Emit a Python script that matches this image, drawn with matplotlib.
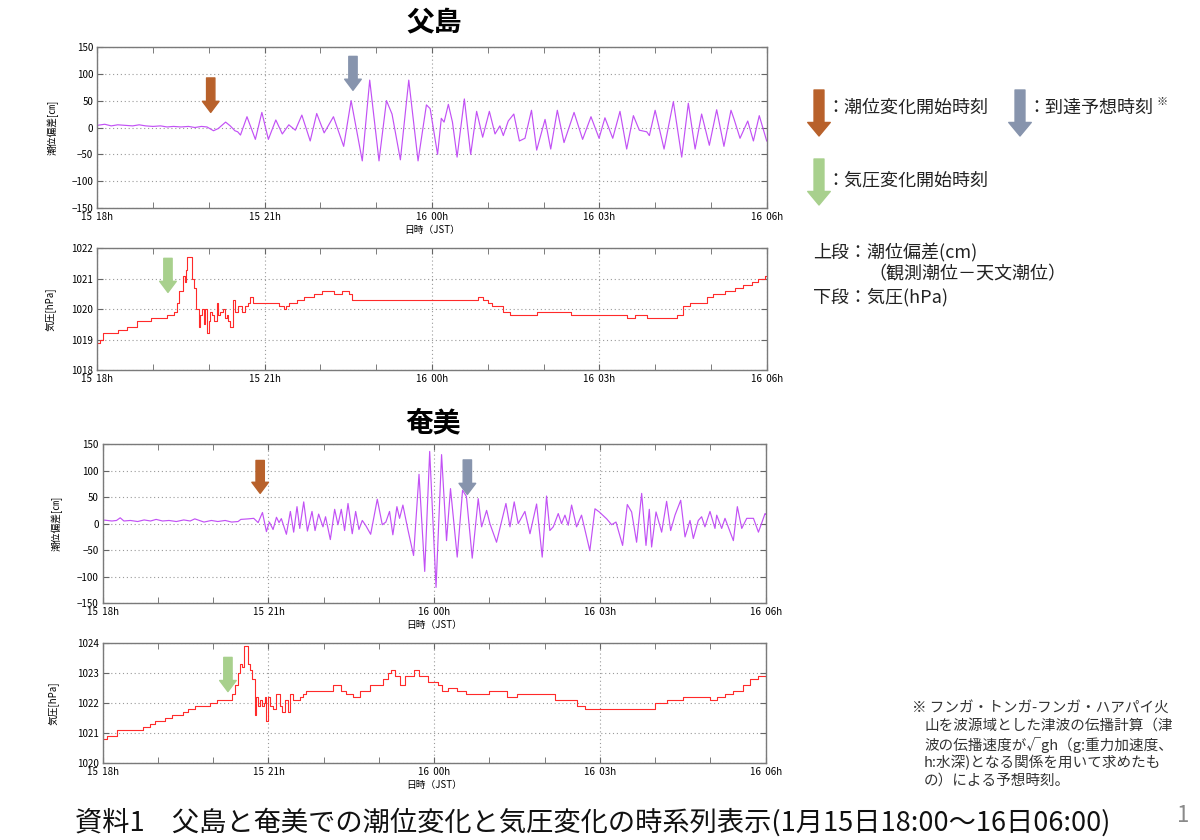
import matplotlib
matplotlib.use("Agg")
import matplotlib.pyplot as plt

plt.rcParams['font.family'] = ['Noto Sans CJK JP', 'DejaVu Sans']

# ---------------- data (minutes after 15th 18:00 JST) ----------------
time_ticks = [0, 180, 360, 540, 720]
time_tick_labels = ["15  18h", "15  21h", "16  00h", "16  03h", "16  06h"]

tide_ticks = [-150, -100, -50, 0, 50, 100, 150]
chichi_p_ticks = [1018, 1019, 1020, 1021, 1022]
amami_p_ticks = [1020, 1021, 1022, 1023, 1024]

chichi_tide = [
    (0, 4), (8, 6), (15, 3), (22, 5), (30, 4), (38, 3), (45, 5), (52, 3), (60, 2), (68, 3),
    (75, 1), (82, 2), (90, 1), (98, 2), (105, 0), (112, 2), (118, 1), (122, -3), (125, -6),
    (130, -2), (138, 10), (143, 3), (148, -6), (151, -8), (154, -14), (161, 20), (170, -22),
    (177, 28), (184, -22), (192, 14), (199, -12), (206, 5), (213, -5), (220, 23), (229, -25),
    (236, 26), (244, -10), (254, 20), (265, -35), (273, 50), (285, -62), (293, 88), (303, -62),
    (311, 50), (317, 25), (326, -60), (335, 88), (345, -62), (354, 42), (358, 35), (366, -50),
    (370, 17), (373, 10), (377.6, 43), (382, 10), (387, -55), (394.8, 53), (401.6, -50),
    (408, 30), (414.5, -18), (421.7, 30), (427.8, -12), (433, 3), (436.7, -15), (442, 12),
    (448, 25), (454, -25), (460, -20), (467, 32), (472.6, -42), (481.6, 15), (487.7, -40),
    (494.8, 32), (502, -28), (512.8, 28), (522, -22), (531, 20), (539.7, -20), (546, 18),
    (554.4, -20), (562.2, 30), (569.4, -40), (576.6, 22), (583, -5), (591, -8), (593.8, -15),
    (600, 32), (609.6, -40), (619.6, 48), (628.6, -55), (635.7, 45), (643, -40), (650, 25),
    (658.3, -33), (666.2, 33), (674, -35), (681.6, 32), (685, 15), (691.3, -20), (699.6, 12),
    (705.7, -25), (712, 22), (720, -25),
]

chichi_pres = [
    (0, 1018.9), (3, 1019.0), (6.5, 1019.2), (13.7, 1019.2), (22.6, 1019.3), (31.6, 1019.4),
    (42.4, 1019.6), (53.2, 1019.6), (58, 1019.7), (62.2, 1019.7), (74.7, 1019.8), (80.1, 1019.8),
    (82, 1019.9), (84, 1019.9), (86, 1020.2), (88.4, 1020.6), (92, 1021.1), (93.8, 1020.9),
    (95, 1021.3), (96.3, 1021.7), (98.8, 1021.7), (101.7, 1021.0), (104.2, 1020.7),
    (106.4, 1020.0), (108.9, 1019.4), (110.7, 1019.8), (112.5, 1020.0), (114.3, 1019.5),
    (116.1, 1020.0), (117.9, 1019.2), (119.7, 1019.6), (121, 1019.9), (123.2, 1019.8),
    (125, 1019.6), (128.6, 1020.2), (130, 1019.8), (132.2, 1019.9), (135.1, 1020.0),
    (137, 1019.7), (139.4, 1019.8), (141, 1019.6), (143, 1019.4), (145.9, 1020.3),
    (148.4, 1019.9), (151, 1020.1), (153.8, 1020.1), (156, 1019.9), (159.2, 1020.1),
    (162, 1020.2), (164.6, 1020.4), (167, 1020.2), (170, 1020.2), (175.3, 1020.2),
    (189.7, 1020.2), (195, 1020.1), (200.5, 1020.0), (203, 1020.1), (205.9, 1020.2),
    (214.9, 1020.3), (222.1, 1020.4), (232.8, 1020.5), (241.8, 1020.6), (248, 1020.6),
    (254.4, 1020.5), (260, 1020.5), (263.4, 1020.6), (270.6, 1020.5), (274.2, 1020.3),
    (283.1, 1020.3), (297.5, 1020.3), (315.5, 1020.3), (333.5, 1020.3), (358.6, 1020.3),
    (380, 1020.3), (400, 1020.3), (410, 1020.4), (415, 1020.3), (420.6, 1020.2),
    (424.2, 1020.1), (436.8, 1019.9), (444, 1019.8), (451, 1019.8), (472.6, 1019.9),
    (504.9, 1019.9), (510, 1019.8), (540.7, 1019.8), (562.2, 1019.8), (569.4, 1019.7),
    (578.4, 1019.8), (591, 1019.7), (616, 1019.7), (623.2, 1019.8), (630.4, 1020.1),
    (637.5, 1020.2), (648.3, 1020.2), (655.5, 1020.4), (662.7, 1020.5), (675.2, 1020.6),
    (686, 1020.7), (695, 1020.8), (703.9, 1020.9), (711.1, 1021.0), (718.2, 1021.1),
    (720, 1021.1),
]

amami_tide = [
    (0, 7), (5, 6), (10, 5), (15, 6), (19, 11), (23, 5), (30, 6), (38, 4), (45, 7), (52, 5),
    (58, 8), (65, 5), (72, 6), (80, 4), (88, 7), (95, 5), (100, 9), (105, 6), (110, 3),
    (118, 6), (125, 4), (133, 6), (140, 3), (147, 4), (150, 8), (158, 9), (164, 10),
    (168.8, 2), (173.5, 21), (177.8, -15), (181, 3), (185, -11), (188.7, 12), (191.5, 2),
    (194, 9.5), (199.5, -20), (203.8, 23), (207.4, -16), (211, 32), (214, -9), (218.3, 41),
    (222.3, -14), (227.3, 23), (230.6, -13), (234.5, 18), (239.2, -6), (242, 13),
    (247.2, -30), (251.9, 27), (255.5, -2), (259.1, 27), (262.7, -13), (266.4, 38),
    (271, -19), (274.7, 23), (278.3, -11), (281.9, 6), (285.5, -3), (291, -20), (298.2, 46),
    (303.6, -2), (307.5, 3), (311.5, 23), (315.1, -21), (319.5, 32), (322.4, 10), (326, 35),
    (331.4, -11), (337.6, -60), (343.5, 93), (349.7, -90), (355.1, 136), (362, -120),
    (368, 130), (373.4, -32), (377.7, 66), (385, -63), (390.8, 63), (395, 51), (401.3, -65),
    (407.8, 47), (411.5, -6), (416.9, 25), (420.5, 0), (427.7, -35), (437.9, 38),
    (442.3, -6), (446.9, 41), (451.2, 0), (458.5, 23), (464, -19), (471.2, 37), (477.3, -63),
    (482, 52), (485.6, -13), (489.3, -6), (494.7, 19), (498.3, 0), (502, 16), (505.6, -3),
    (509.2, 35), (514.6, -6), (520, 16), (529, -51), (534.6, 28), (539.3, 22), (547.3, 9),
    (552.7, -2), (557.4, 3), (564.6, -41), (569.7, 36), (574.4, 22), (579.8, -35),
    (585.3, 57), (590, -41), (593.6, 27), (596.1, -44), (600.9, 22), (607, -16), (612.4, 42),
    (616.8, -13), (621.5, 16), (627.7, 44), (632.4, -25), (637.8, 6), (641.4, -28),
    (646.8, 6), (650.4, 13), (654, -6), (659.5, 23), (664.9, -9), (666.8, 16), (672.2, -9),
    (675.8, 10), (684.9, -32), (689.2, 32), (694, -9), (699.4, 10), (706.7, 10),
    (712.1, -16), (719.3, 19), (720, 18),
]

amami_pres = [
    (0, 1020.8), (4.3, 1020.9), (15.9, 1021.1), (30, 1021.1), (44, 1021.2), (51.3, 1021.3),
    (56.7, 1021.4), (67.6, 1021.5), (74.8, 1021.6), (87.5, 1021.7), (92.9, 1021.8),
    (100.1, 1021.9), (116.4, 1022.0), (123.6, 1022.1), (136.2, 1022.1), (139.9, 1022.3),
    (143.5, 1022.6), (147.1, 1023.0), (148.9, 1023.3), (151, 1023.2), (153.2, 1023.9),
    (156.1, 1023.9), (157.9, 1023.3), (160, 1023.1), (162.3, 1022.8), (165.2, 1021.6),
    (167, 1022.2), (169, 1021.9), (171, 1022.1), (173, 1021.9), (175, 1022.0),
    (176.5, 1022.2), (177.8, 1021.4), (179.6, 1022.2), (181.4, 1021.9), (185, 1021.8),
    (188.7, 1022.3), (192, 1021.9), (195, 1021.7), (197.5, 1022.1), (201.2, 1021.7),
    (203, 1022.3), (206.6, 1022.1), (210, 1022.1), (213.9, 1022.2), (217.5, 1022.3),
    (221, 1022.4), (231.8, 1022.4), (239, 1022.4), (250, 1022.6), (259, 1022.4),
    (264.5, 1022.3), (271.8, 1022.2), (279, 1022.4), (289.8, 1022.6), (297, 1022.6),
    (304.3, 1022.8), (309.7, 1023.0), (313.3, 1023.1), (316.9, 1022.9), (322.4, 1022.6),
    (328, 1022.9), (333, 1022.9), (338, 1023.1), (343, 1022.9), (350, 1022.9),
    (353.5, 1022.7), (360, 1022.7), (364.3, 1022.6), (368, 1022.4), (375, 1022.5),
    (384.3, 1022.4), (395, 1022.3), (409.6, 1022.3), (420, 1022.4), (427.7, 1022.4),
    (438.6, 1022.2), (449.5, 1022.3), (470, 1022.3), (491.1, 1022.1), (514.7, 1021.9),
    (523.7, 1021.8), (540, 1021.8), (590.7, 1021.8), (599.8, 1022.0), (612.4, 1022.1),
    (630.6, 1022.2), (650, 1022.2), (659.5, 1022.1), (666.8, 1022.2), (675.8, 1022.3),
    (684.9, 1022.4), (695.7, 1022.6), (703, 1022.8), (712.1, 1022.9), (720, 1022.9),
]

# event arrows: (time, top value, tip value)
chichi_tide_start = (122, 92, 28)
chichi_arrival = (275, 132, 69)
chichi_pres_start = (76, 1021.67, 1020.55)
amami_tide_start = (171, 119, 57)
amami_arrival = (396, 120, 55)
amami_pres_start = (136, 1023.53, 1022.39)

C_BROWN = '#B8612B'
C_BLUE = '#8794AD'
C_GREEN = '#A8D08D'
C_TIDE = '#C251F5'
C_PRES = '#FF2A2A'

# ---------------- figure ----------------
fig = plt.figure(figsize=(12, 8.4), dpi=100)
W, H = 1200.0, 840.0


def make_ax(left, top, right, bottom):
    return fig.add_axes([left / W, 1 - bottom / H, (right - left) / W, (bottom - top) / H])


def style(ax, ylim, yticks, ylabel, xlabel, ylab_x):
    ax.set_xlim(0, 720)
    ax.set_ylim(*ylim)
    ax.set_xticks(time_ticks)
    ax.set_xticklabels(time_tick_labels)
    ax.set_xticks(list(range(0, 721, 60)), minor=True)
    ax.set_yticks(yticks)
    ax.grid(True, which='major', linestyle=(0, (1, 2.5)), color='#9a9a9a', linewidth=0.8)
    ax.tick_params(which='both', direction='in', top=True, right=True, labelsize=7,
                   length=4, color='#666666', pad=3)
    for sp in ax.spines.values():
        sp.set_color('#7a7a7a')
        sp.set_linewidth(1.0)
    ax.set_ylabel(ylabel, fontsize=7)
    ax.yaxis.set_label_coords(ylab_x, 0.5)
    if xlabel:
        ax.set_xlabel(xlabel, fontsize=7, labelpad=2)


def arrow(ax, ev, color):
    t, top, tip = ev
    ax.annotate('', xy=(t, tip), xytext=(t, top),
                arrowprops=dict(arrowstyle='simple,head_length=0.8,head_width=1.2,tail_width=0.6',
                                color=color, shrinkA=0, shrinkB=0, mutation_scale=10),
                annotation_clip=False)


def split(pts):
    return [p[0] for p in pts], [p[1] for p in pts]


# 父島 tide
ax1 = make_ax(97.3, 46.7, 766.7, 208.3)
x, y = split(chichi_tide)
ax1.plot(x, y, color=C_TIDE, lw=0.85, solid_joinstyle='round')
style(ax1, (-150, 150), tide_ticks, '潮位偏差[㎝]', '日時（JST）', -0.058)
arrow(ax1, chichi_tide_start, C_BROWN)
arrow(ax1, chichi_arrival, C_BLUE)

# 父島 pressure
ax2 = make_ax(97.3, 248.3, 766.7, 370)
x, y = split(chichi_pres)
ax2.plot(x, y, color=C_PRES, lw=0.8, drawstyle='steps-post')
style(ax2, (1018, 1022), chichi_p_ticks, '気圧[hPa]', None, -0.063)
arrow(ax2, chichi_pres_start, C_GREEN)

# 奄美 tide
ax3 = make_ax(102.7, 444, 765.7, 603.3)
x, y = split(amami_tide)
ax3.plot(x, y, color=C_TIDE, lw=0.85, solid_joinstyle='round')
style(ax3, (-150, 150), tide_ticks, '潮位偏差[㎝]', '日時（JST）', -0.060)
arrow(ax3, amami_tide_start, C_BROWN)
arrow(ax3, amami_arrival, C_BLUE)

# 奄美 pressure
ax4 = make_ax(102.7, 643.3, 765.7, 763.3)
x, y = split(amami_pres)
ax4.plot(x, y, color=C_PRES, lw=0.8, drawstyle='steps-post')
style(ax4, (1020, 1024), amami_p_ticks, '気圧[hPa]', '日時（JST）', -0.067)
arrow(ax4, amami_pres_start, C_GREEN)

# station titles
fig.text(434 / W, 1 - 22 / H, '父島', ha='center', va='center', fontsize=20, fontweight='bold')
fig.text(433 / W, 1 - 423 / H, '奄美', ha='center', va='center', fontsize=20, fontweight='bold')


# legend arrows
def fig_arrow(xpx, top_px, tip_px, color):
    fig.add_artist(matplotlib.patches.FancyArrowPatch(
        (xpx / W, 1 - top_px / H), (xpx / W, 1 - tip_px / H), transform=fig.transFigure,
        arrowstyle='simple,head_length=0.75,head_width=1.25,tail_width=0.55',
        color=color, mutation_scale=13, shrinkA=0, shrinkB=0))


fig_arrow(819, 90, 136, C_BROWN)
fig_arrow(1020, 90, 136, C_BLUE)
fig_arrow(819, 159, 205, C_GREEN)

leg_fs = 13
fig.text(826 / W, 1 - 108 / H, '：潮位変化開始時刻', ha='left', va='center', fontsize=leg_fs, color='#222222')
fig.text(1027 / W, 1 - 108 / H, '：到達予想時刻', ha='left', va='center', fontsize=leg_fs, color='#222222')
fig.text(1157 / W, 1 - 102 / H, '※', ha='left', va='center', fontsize=8, color='#222222')
fig.text(826 / W, 1 - 180 / H, '：気圧変化開始時刻', ha='left', va='center', fontsize=leg_fs, color='#222222')

fig.text(813 / W, 1 - 252 / H, '上段：潮位偏差(cm)', ha='left', va='center', fontsize=leg_fs, color='#222222')
fig.text(868 / W, 1 - 274 / H, '（観測潮位－天文潮位）', ha='left', va='center', fontsize=leg_fs, color='#222222')
fig.text(813 / W, 1 - 297 / H, '下段：気圧(hPa)', ha='left', va='center', fontsize=leg_fs, color='#222222')

# footnote
note_lines = [
    '※ フンガ・トンガ-フンガ・ハアパイ火',
    '山を波源域とした津波の伝播計算（津',
    '波の伝播速度が√gh（g:重力加速度、',
    'h:水深)となる関係を用いて求めたも',
    'の）による予想時刻。',
]
note_y = [708, 726, 745, 763, 781]
for i, (line, yy) in enumerate(zip(note_lines, note_y)):
    fig.text((912 if i == 0 else 924) / W, 1 - yy / H, line, ha='left', va='center',
             fontsize=10.5, color='#333333')

# bottom caption
fig.text(75 / W, 1 - 822 / H, '資料1　父島と奄美での潮位変化と気圧変化の時系列表示(1月15日18:00～16日06:00)',
         ha='left', va='center', fontsize=19.6, color='#111111')
fig.text(1183 / W, 1 - 816 / H, '1', ha='center', va='center', fontsize=16, color='#8a8a8a')

fig.savefig('out.png', dpi=100)
